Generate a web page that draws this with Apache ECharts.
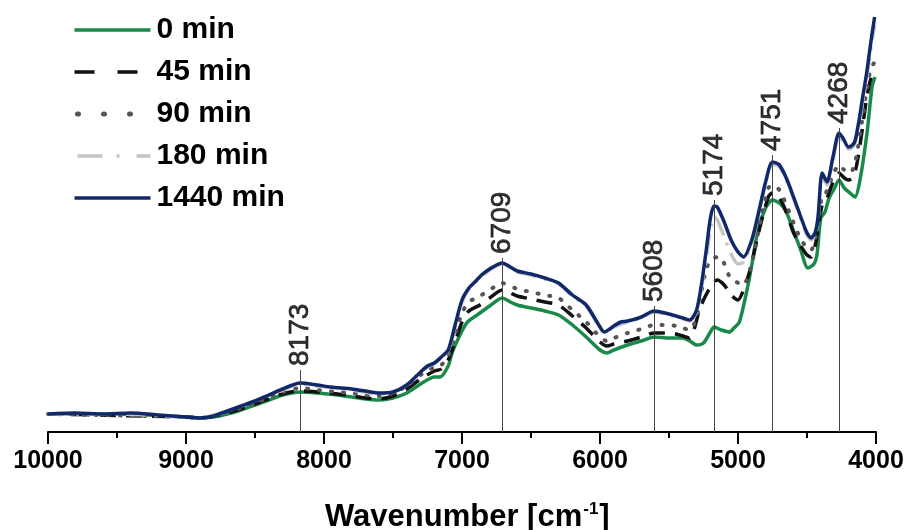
<!DOCTYPE html>
<html>
<head>
<meta charset="utf-8">
<script src="https://cdn.jsdelivr.net/npm/echarts@6/dist/echarts.min.js"></script>
<style>
html,body{margin:0;padding:0;background:#fff;}
#chart{width:907px;height:530px;}
</style>
</head>
<body>
<div id="chart"></div>
<script>
// ---- data (wavenumber in cm-1, absorbance in arbitrary units) ----
const seriesNames = ['0 min', '45 min', '90 min', '180 min', '1440 min'];

const wn0 = [10000,9500,9000,8900,8800,8700,8600,8500,8400,8300,8173,8050,7900,7800,7700,7600,7500,7400,7300,7200,7160,7100,7070,7000,6960,6870,6800,6709,6650,6600,6500,6400,6300,6200,6100,6000,5950,5900,5800,5700,5608,5500,5400,5350,5300,5250,5200,5174,5120,5060,5030,4990,4930,4900,4855,4800,4751,4700,4650,4600,4550,4493,4450,4428,4400,4370,4340,4300,4268,4230,4188,4152,4116,4065,4029,4007];
const ab0 = [0.18,0.18,0.15,0.14,0.15,0.18,0.22,0.27,0.32,0.37,0.40,0.39,0.37,0.35,0.33,0.32,0.34,0.39,0.48,0.55,0.55,0.66,0.80,1.01,1.10,1.19,1.26,1.34,1.30,1.27,1.24,1.21,1.17,1.07,0.95,0.82,0.79,0.82,0.87,0.91,0.95,0.94,0.94,0.91,0.87,0.89,1.00,1.05,1.02,1.00,1.04,1.10,1.45,1.67,2.02,2.24,2.32,2.29,2.20,2.02,1.84,1.64,1.68,1.77,2.14,2.20,2.34,2.44,2.52,2.44,2.39,2.35,2.52,2.99,3.45,3.55];

const wn45 = [10000,9000,8900,8700,8500,8300,8173,8050,7900,7800,7700,7600,7500,7400,7300,7200,7150,7100,7050,7000,6950,6870,6800,6709,6650,6600,6500,6400,6300,6200,6100,6000,5950,5900,5800,5700,5608,5500,5450,5400,5350,5320,5280,5250,5200,5152,5100,5050,5000,4960,4913,4841,4780,4751,4700,4650,4600,4550,4500,4470,4440,4410,4390,4360,4320,4268,4230,4200,4170,4140,4100,4070,4040,4010];
const ab45 = [0.18,0.15,0.14,0.19,0.28,0.38,0.41,0.40,0.38,0.36,0.34,0.33,0.36,0.43,0.53,0.61,0.63,0.72,0.90,1.10,1.21,1.27,1.34,1.42,1.39,1.36,1.33,1.30,1.27,1.16,1.04,0.90,0.86,0.88,0.91,0.95,0.99,0.99,0.98,0.96,0.94,1.02,1.22,1.32,1.45,1.52,1.47,1.37,1.32,1.42,1.62,2.05,2.35,2.39,2.34,2.20,2.00,1.87,1.77,1.75,1.87,2.12,2.27,2.32,2.47,2.59,2.54,2.52,2.54,2.67,3.02,3.32,3.52,3.60];

const wn90 = [10000,9000,8900,8700,8500,8300,8173,8050,7900,7800,7700,7600,7500,7400,7300,7200,7150,7100,7050,7000,6950,6870,6800,6709,6650,6600,6500,6400,6300,6200,6100,6000,5950,5900,5800,5700,5608,5500,5450,5400,5350,5300,5270,5225,5174,5130,5058,4964,4899,4826,4780,4751,4700,4650,4600,4550,4500,4470,4440,4410,4390,4360,4320,4268,4230,4200,4170,4140,4100,4070,4040,4010];
const ab90 = [0.18,0.15,0.14,0.20,0.29,0.40,0.44,0.42,0.40,0.39,0.37,0.36,0.39,0.46,0.57,0.65,0.67,0.76,0.97,1.19,1.30,1.36,1.42,1.49,1.46,1.43,1.40,1.37,1.34,1.22,1.10,0.95,0.91,0.94,0.99,1.03,1.07,1.07,1.06,1.04,1.02,1.14,1.37,1.65,1.74,1.75,1.55,1.47,1.69,2.19,2.44,2.47,2.42,2.27,2.10,1.94,1.84,1.82,1.94,2.17,2.37,2.40,2.54,2.67,2.62,2.59,2.62,2.77,3.12,3.40,3.62,3.70];

const wn180 = [10000,9500,9000,8900,8700,8500,8300,8173,8050,7800,7600,7500,7400,7300,7200,7150,7100,7050,7000,6950,6900,6800,6709,6600,6500,6400,6300,6200,6100,6000,5970,5900,5800,5700,5608,5500,5400,5350,5300,5260,5230,5200,5174,5150,5100,5050,5000,4960,4900,4850,4800,4751,4700,4650,4600,4550,4500,4470,4440,4420,4390,4355,4312,4268,4240,4200,4170,4150,4120,4100,4070,4050,4030,4010];
const ab180 = [0.18,0.18,0.15,0.14,0.21,0.31,0.42,0.48,0.46,0.42,0.38,0.40,0.47,0.60,0.69,0.74,0.81,1.05,1.30,1.43,1.50,1.62,1.68,1.60,1.57,1.53,1.48,1.36,1.26,1.04,0.99,1.05,1.10,1.14,1.20,1.17,1.13,1.11,1.20,1.48,1.74,2.02,2.15,2.12,1.95,1.78,1.68,1.70,1.90,2.18,2.48,2.68,2.65,2.52,2.34,2.15,1.97,1.92,1.98,2.13,2.56,2.47,2.72,2.96,2.91,2.83,2.85,2.90,3.11,3.28,3.52,3.70,3.90,4.07];

const wn1440 = [10000,9800,9600,9400,9200,9000,8900,8800,8700,8600,8500,8400,8300,8173,8050,7950,7800,7700,7600,7500,7400,7300,7250,7200,7150,7100,7050,7000,6950,6900,6850,6800,6750,6709,6650,6600,6500,6400,6300,6200,6100,6000,5970,5900,5850,5800,5700,5608,5500,5450,5400,5350,5300,5260,5230,5200,5174,5150,5100,5050,5000,4960,4900,4850,4800,4751,4700,4650,4600,4550,4500,4470,4440,4420,4390,4355,4312,4268,4240,4200,4170,4150,4120,4100,4070,4050,4030,4010];
const ab1440 = [0.18,0.19,0.18,0.19,0.17,0.15,0.14,0.16,0.21,0.26,0.31,0.37,0.43,0.49,0.47,0.45,0.43,0.41,0.39,0.40,0.47,0.60,0.66,0.69,0.75,0.82,1.07,1.32,1.44,1.51,1.58,1.63,1.67,1.69,1.65,1.61,1.58,1.54,1.49,1.37,1.27,1.05,1.00,1.06,1.10,1.11,1.15,1.21,1.18,1.16,1.14,1.12,1.22,1.52,1.82,2.14,2.26,2.25,2.10,1.92,1.80,1.75,1.92,2.20,2.50,2.70,2.67,2.54,2.36,2.17,1.99,1.94,2.00,2.15,2.59,2.50,2.75,2.99,2.94,2.85,2.87,2.92,3.14,3.32,3.57,3.77,3.97,4.15];

// peak markers
const peakWn = [8173, 6709, 5608, 5174, 4751, 4268];
const peakTop = [0.62, 1.74, 1.26, 2.32, 2.77, 3.04];

// x-axis
const xMin = 4000, xMax = 10000, xStep = 1000;

const zip = (xs, ys) => xs.map((x, i) => [x, ys[i]]);

const chart = echarts.init(document.getElementById('chart'), null, {renderer: 'canvas'});

const common = {type: 'line', symbol: 'none', showSymbol: false, smooth: 0.25, silent: true, animation: false};
const FONT = 'Liberation Sans, Arial, sans-serif';

const option = {
  animation: false,
  backgroundColor: '#fff',
  grid: {left: 48, right: 31, top: 12, bottom: 98, containLabel: false},
  title: {
    left: 320, top: 496,
    text: '{a|Wavenumber [cm}{s|-1}{a|]}',
    textStyle: {
      rich: {
        a: {fontFamily: FONT, fontSize: 31, fontWeight: 'bold', color: '#000'},
        s: {fontFamily: FONT, fontSize: 17, fontWeight: 'bold', color: '#000', padding: [0, 1, 16, 1]}
      }
    }
  },
  legend: {
    orient: 'vertical', left: 72, top: 15, padding: 0,
    itemWidth: 76, itemHeight: 14, itemGap: 12,
    itemStyle: {color: 'rgba(0,0,0,0)', borderWidth: 0, opacity: 0},
    lineStyle: {width: 3.5},
    textStyle: {fontFamily: FONT, fontSize: 30, fontWeight: 'bold', color: '#000', lineHeight: 30, padding: [0, 0, 0, 1]},
    data: [
      {name: '0 min', lineStyle: {width: 3.5}},
      {name: '45 min', lineStyle: {width: 3.5, type: [20, 23]}},
      {name: '90 min', lineStyle: {type: [1, 25], width: 5, cap: 'round', dashOffset: -3}},
      {name: '180 min', lineStyle: {width: 3.5, type: [25, 14, 3, 17]}},
      {name: '1440 min', lineStyle: {width: 3.5}}
    ]
  },
  xAxis: {
    type: 'value', min: xMin, max: xMax, interval: xStep, inverse: true,
    axisLine: {show: true, onZero: false, lineStyle: {color: '#000', width: 2}},
    axisTick: {show: true, inside: false, length: 12, lineStyle: {color: '#000', width: 2}},
    minorTick: {show: true, splitNumber: 2, length: 6, lineStyle: {color: '#000', width: 2}},
    splitLine: {show: false},
    axisLabel: {margin: 17, fontFamily: FONT, fontSize: 25, fontWeight: 'bold', color: '#000', formatter: v => String(v)}
  },
  yAxis: {type: 'value', min: 0, max: 4.2, show: false},
  series: [
    Object.assign({}, common, {name: seriesNames[0], data: zip(wn0, ab0), lineStyle: {color: '#1a8a4a', width: 3.5}, itemStyle: {color: '#1a8a4a'}}),
    Object.assign({}, common, {name: seriesNames[1], data: zip(wn45, ab45), lineStyle: {color: '#111', width: 3.5, type: [16, 10]}, itemStyle: {color: '#111'}}),
    Object.assign({}, common, {name: seriesNames[2], data: zip(wn90, ab90), lineStyle: {color: '#555', width: 4, type: [1, 11], cap: 'round'}, itemStyle: {color: '#555'}}),
    Object.assign({}, common, {name: seriesNames[3], data: zip(wn180, ab180), lineStyle: {color: '#c4c4c4', width: 3.5, type: [20, 8, 3, 8]}, itemStyle: {color: '#c4c4c4'}}),
    Object.assign({}, common, {name: seriesNames[4], data: zip(wn1440, ab1440), lineStyle: {color: '#11296b', width: 3.5}, itemStyle: {color: '#11296b'}}),
    {
      type: 'scatter', silent: true, symbolSize: 0, z: 1,
      data: peakWn.map((w, i) => ({value: [w, peakTop[i]], name: String(w)})),
      label: {
        show: true, position: 'top', distance: 4, rotate: 90, align: 'left', verticalAlign: 'middle',
        formatter: p => String(p.value[0]),
        fontFamily: FONT, fontSize: 28, color: '#000',
        textBorderColor: '#000', textBorderWidth: 0.7
      },
      markLine: {
        silent: true, symbol: 'none', animation: false,
        label: {show: false},
        lineStyle: {color: '#444', width: 1, type: 'solid'},
        data: peakWn.map((w, i) => [{coord: [w, 0]}, {coord: [w, peakTop[i]]}])
      }
    }
  ]
};
chart.setOption(option);
</script>
</body>
</html>
